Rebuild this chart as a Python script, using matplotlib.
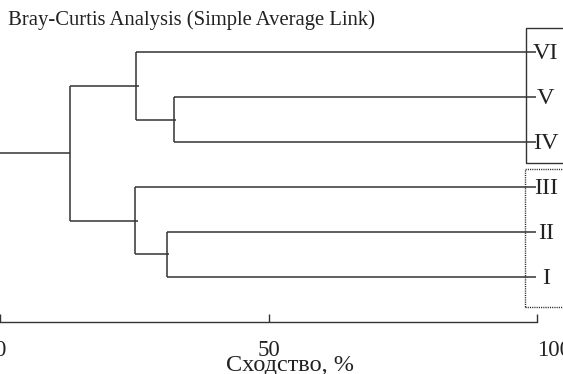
import matplotlib
matplotlib.use('Agg')
import matplotlib.pyplot as plt
from matplotlib.patches import Rectangle

plt.rcParams['font.family'] = ['Liberation Serif', 'DejaVu Serif']

# leaves, bottom to top
leaf_labels = ['I', 'II', 'III', 'IV', 'V', 'VI']
# merges: (child a, child b, similarity %), new ids start at 6
merges = [(0, 1, 31.0), (3, 4, 32.3), (2, 6, 25.1), (5, 7, 25.3), (8, 9, 13.0)]
x_ticks = [0, 50, 100]
x_tick_labels = ['0', '50', '100']
title = 'Bray-Curtis Analysis (Simple Average Link)'
xlabel = 'Сходство, %'

col = '#333333'
lw = 1.1

fig = plt.figure(figsize=(5.63, 3.74), dpi=100)
ax = fig.add_axes([0, 0, 1, 1])
ax.set_xlim(-0.05, 104.8)
ax.set_ylim(-2.156, 6.156)

# node positions
xs = {i: 99.7 for i in range(len(leaf_labels))}
ys = {i: float(i) for i in range(len(leaf_labels))}
for n, (a, b, s) in enumerate(merges):
    nid = len(leaf_labels) + n
    xs[nid] = s
    ys[nid] = (ys[a] + ys[b]) / 2
    for c in (a, b):
        ext = 0 if c < len(leaf_labels) else 0.5
        ax.plot([s, xs[c] + ext], [ys[c], ys[c]], color=col, lw=lw, solid_capstyle='butt')
    ax.plot([s, s], [ys[a], ys[b]], color=col, lw=lw, solid_capstyle='butt')

root = len(leaf_labels) + len(merges) - 1
ax.plot([0, xs[root]], [ys[root], ys[root]], color=col, lw=lw, solid_capstyle='butt')

for i, lab in enumerate(leaf_labels):
    ax.text(101.6, i - 0.03, lab, ha='center', va='center', fontsize=17.5, color='#222222')

# group boxes
ax.add_patch(Rectangle((97.9, 2.53), 10, 3.0, fill=False, ec=col, lw=1.0))
ax.add_patch(Rectangle((97.7, -0.667), 10, 3.07, fill=False, ec='#222222', lw=1.0,
                       ls=(0, (0.8, 0.8))))

# axis
for s in ['top', 'right', 'left']:
    ax.spines[s].set_visible(False)
ax.spines['bottom'].set_position(('data', -1))
ax.spines['bottom'].set_bounds(0, 100)
ax.spines['bottom'].set_color(col)
ax.spines['bottom'].set_linewidth(1.0)
ax.set_yticks([])
ax.set_xticks(x_ticks)
ax.set_xticklabels(x_tick_labels, fontsize=16.5, color='#222222')
ax.tick_params(axis='x', direction='in', length=6, width=1.0, color=col, pad=13)
ax.get_xticklabels()[2].set_ha('left')

ax.text(54.0, -2.1, xlabel, ha='center', va='baseline', fontsize=17.5, color='#222222')
ax.text(1.5, 5.6, title, ha='left', va='baseline', fontsize=14.9, color='#222222')

fig.savefig('out.png', dpi=100)
